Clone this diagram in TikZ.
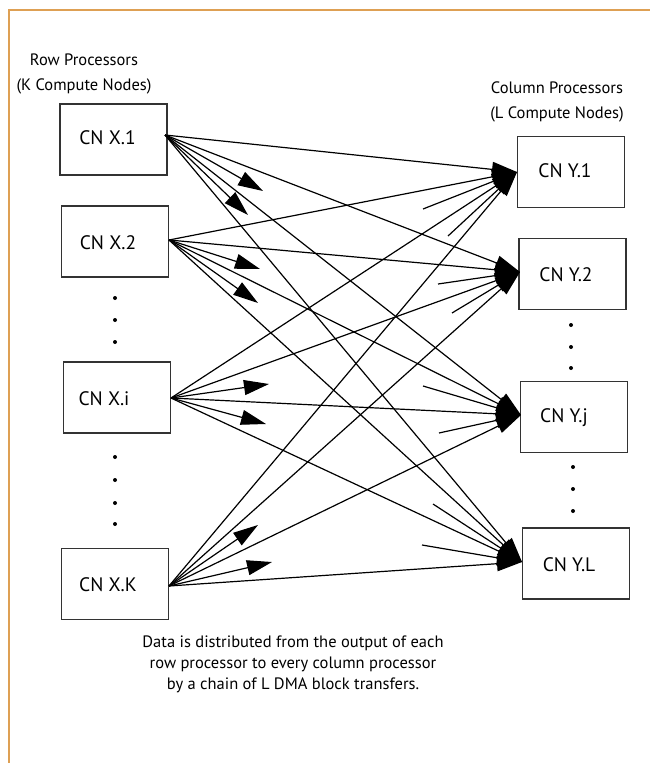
\documentclass[tikz,border=0pt]{standalone}
\usepackage{fontspec}
\setmainfont{PT Sans}
\usetikzlibrary{arrows.meta}
\definecolor{framecol}{RGB}{222,160,84}
\begin{document}
\begin{tikzpicture}[x=1pt,y=-1pt,
  cnbox/.style={draw=black!80, line width=1.1pt, minimum width=107pt, minimum height=71pt, inner sep=0pt},
  cntext/.style={font=\fontsize{19.5}{22}\selectfont, inner sep=0pt},
  title/.style={font=\fontsize{16.5}{25}\selectfont, inner sep=0pt, align=center},
  caption/.style={font=\fontsize{16.5}{21}\selectfont, inner sep=0pt, align=center},
  link/.style={line width=1.2pt, -{Triangle[length=25pt,width=15pt]}},
  stub/.style={line width=1.2pt, -{Triangle[length=25pt,width=15pt]}},
  vdot/.style={circle, fill=black, inner sep=0pt, minimum size=4pt}]
\useasboundingbox (0,0) rectangle (649,763);
\fill[white] (0,0) rectangle (649,763);
\draw[framecol, line width=2pt] (9,764) -- (9,10) -- (650,10);

% titles
\node[title] (rowt) at (84,74) {Row Processors\\(K Compute Nodes)};
\node[title] (colt) at (557,102) {Column Processors\\(L Compute Nodes)};

% row processor boxes
\node[cnbox] (x1) at (113.5,139.5) {};
\node[cnbox] (x2) at (115,241.5) {};
\node[cnbox] (xi) at (117,397.5) {};
\node[cnbox] (xk) at (115,584) {};
\node[cntext] (lx1) at (107.5,138) {CN X.1};
\node[cntext] (lx2) at (108,243) {CN X.2};
\node[cntext] (lxi) at (104,399) {CN X.i};
\node[cntext] (lxk) at (108,585) {CN X.K};

% column processor boxes
\node[cnbox] (y1) at (571,172) {};
\node[cnbox] (y2) at (572.5,274) {};
\node[cnbox] (yj) at (574,417) {};
\node[cnbox] (yl) at (576,563.5) {};
\node[cntext] (ly1) at (565,171) {CN Y.1};
\node[cntext] (ly2) at (566,275) {CN Y.2};
\node[cntext] (lyj) at (564,418) {CN Y.j};
\node[cntext] (lyl) at (569,565) {CN Y.L};

% dots
\foreach \yy [count=\n] in {298,320,342} \node[vdot] (dl\n) at (115,\yy) {};
\foreach \yy [count=\n] in {457,480,503,524} \node[vdot] (dm\n) at (115,\yy) {};
\foreach \yy [count=\n] in {325,347,368} \node[vdot] (dr\n) at (571,\yy) {};
\foreach \yy [count=\n] in {467,489,511} \node[vdot] (ds\n) at (573,\yy) {};

% connector end points
\coordinate (s1) at (165,135);
\coordinate (s2) at (169,240);
\coordinate (s3) at (171,398);
\coordinate (s4) at (169,586);
\coordinate (t1) at (517,172);
\coordinate (t2) at (520,272);
\coordinate (t3) at (521,415);
\coordinate (t4) at (522,562);

% full links
\foreach \s in {s1,s2,s3,s4}
  \foreach \t in {t1,t2,t3,t4}
    \draw[link] (\s) -- (\t);

% short arrows leaving row processors
\coordinate (a11) at (263,191); \coordinate (a12) at (248,215);
\coordinate (a21) at (260,269); \coordinate (a22) at (258,303);
\coordinate (a31) at (269,384); \coordinate (a32) at (266,424);
\coordinate (a41) at (258,525); \coordinate (a42) at (272,562);
\draw[link] (s1) -- (a11); \draw[link] (s1) -- (a12);
\draw[link] (s2) -- (a21); \draw[link] (s2) -- (a22);
\draw[link] (s3) -- (a31); \draw[link] (s3) -- (a32);
\draw[link] (s4) -- (a41); \draw[link] (s4) -- (a42);

% short stubs arriving at column processors
\coordinate (b11) at (423,209); \coordinate (b12) at (448,236);
\coordinate (b21) at (438,284); \coordinate (b22) at (452,313);
\coordinate (b31) at (423,386); \coordinate (b32) at (439,433);
\coordinate (b41) at (433,504); \coordinate (b42) at (422,545);
\draw[stub] (b11) -- (t1); \draw[stub] (b12) -- (t1);
\draw[stub] (b21) -- (t2); \draw[stub] (b22) -- (t2);
\draw[stub] (b31) -- (t3); \draw[stub] (b32) -- (t3);
\draw[stub] (b41) -- (t4); \draw[stub] (b42) -- (t4);

% caption
\node[caption] (cap) at (293,664) {Data is distributed from the output of each\\row processor to every column processor\\by a chain of L DMA block transfers.};
\end{tikzpicture}
\end{document}
